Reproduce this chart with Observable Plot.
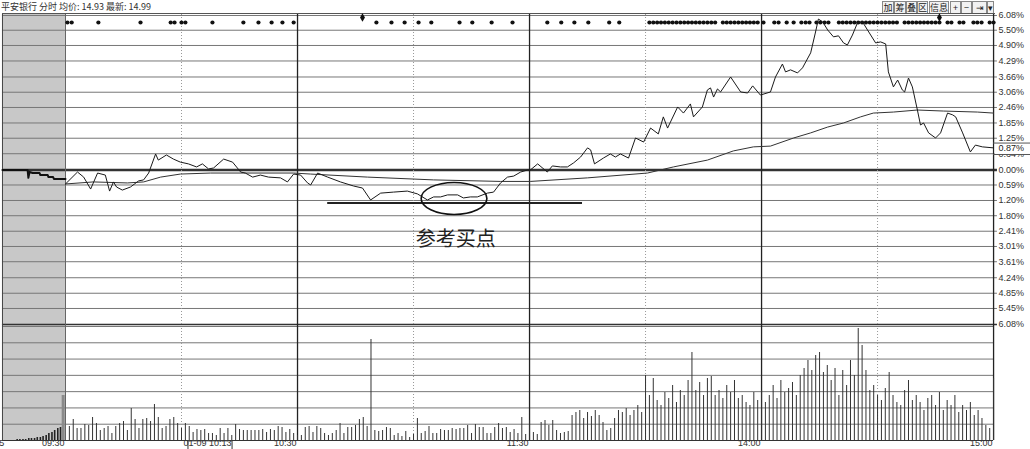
<!DOCTYPE html>
<html><head><meta charset="utf-8">
<script src="https://cdn.jsdelivr.net/npm/d3@7"></script>
<script src="https://cdn.jsdelivr.net/npm/@observablehq/plot@0.6"></script>
<style>
body{margin:0;background:#fff;width:1030px;height:449px;overflow:hidden;position:relative;font-family:"Liberation Sans",Arial,sans-serif;}
#hdr{position:absolute;left:1px;top:1px;font-size:9px;color:#333;white-space:nowrap;font-family:"Noto Sans CJK SC","Liberation Sans",sans-serif;line-height:12px}
.btn{position:absolute;top:1px;border:1px solid #888;background:#f2f2f2;font-size:9px;line-height:11px;text-align:center;color:#222;font-family:"Noto Sans CJK SC",sans-serif;box-sizing:border-box;height:13px}
#topline{position:absolute;left:2px;top:13px;width:993px;height:1px;background:#555}
#pa{position:absolute;left:0;top:14px}
#pv{position:absolute;left:0;top:326px}
svg{overflow:visible}
</style></head><body>
<div id="hdr"></div>
<div id="btns"></div>
<div id="topline"></div>
<div id="pa"></div>
<div id="pv"></div>
<script>
// ---------- data ----------
const headerText = "平安银行 分时 均价: 14.93 最新: 14.99";
const buttonLabels = ["加","筹","叠","区","信息","+","−","⇥","▾"];
const buttonLeft = [882,894,906,917,929,950,961,972,987];
const buttonWidth = [12,12,11,11,20,11,11,15,7];

// price line (minute from 09:30, % change)
const priceMin = [0,3.1,4.7,6.5,8.3,10.3,11.4,12.4,13.2,14.7,16.8,18.9,20.2,21.5,23.3,24.0,26.1,27.9,29.7,31.8,33.9,35.4,37.0,38.3,40.9,43.2,45.3,46.5,48.4,50.4,52.5,55.6,57.4,59.0,60.8,62.6,63.4,65.2,67.8,71.1,74.5,76.8,78.9,81.5,84.8,88.4,91.0,93.6,95.2,97.0,98.8,101.4,102.9,104.7,106.5,109.1,110.7,112.5,114.3,115.9,117.7,119.5,120.2,122.1,124.6,125.9,128.0,129.8,131.4,133.2,135.0,135.8,136.8,139.1,140.9,142.2,143.5,145.6,147.4,149.5,151.3,153.3,154.6,155.7,158.3,159.8,161.6,162.4,164.7,166.0,166.8,167.6,168.6,169.4,172.0,174.6,176.4,177.7,179.7,182.3,183.6,185.4,186.2,187.5,189.3,190.6,192.7,193.9,194.7,195.8,197.1,198.6,199.9,201.2,202.2,203.5,204.8,206.1,207.4,209.5,210.8,212.1,212.8,214.1,215.2,216.4,217.0,218.0,219.0,220.3,221.1,221.9,223.2,225.0,226.3,228.1,229.4,230.2,232.0,234.0,235.3,237.1,240];
const pricePct = [-0.55,-0.08,-0.28,-0.75,-0.12,-0.20,-0.83,-0.47,-0.67,-0.79,-0.67,-0.43,-0.39,-0.12,0.63,0.39,0.59,0.43,0.31,0.24,0.12,0.24,0.04,0.08,0.43,0.31,-0.08,-0.12,-0.28,-0.20,-0.28,-0.31,-0.47,-0.16,-0.20,-0.51,-0.59,-0.12,-0.28,-0.47,-0.63,-0.71,-1.18,-0.91,-0.87,-0.83,-0.94,-1.18,-1.06,-1.06,-0.98,-0.98,-1.10,-1.06,-1.06,-0.91,-0.87,-0.51,-0.28,-0.24,-0.08,0.00,0.00,0.24,-0.08,0.16,0.12,0.12,0.28,0.51,0.87,0.79,0.24,0.47,0.63,0.51,0.63,0.47,1.26,1.10,1.65,1.42,2.09,1.65,2.48,2.24,2.60,2.09,2.48,3.15,3.23,2.87,3.19,3.07,3.66,3.07,3.03,3.31,2.95,3.07,3.66,4.17,3.86,3.94,3.82,4.02,4.61,5.39,5.94,5.83,5.51,5.24,5.28,5.00,4.92,5.31,5.79,5.83,5.51,5.00,5.04,4.96,3.86,3.27,3.54,3.15,3.07,3.62,3.27,2.36,1.77,1.85,1.46,1.26,1.46,2.24,2.17,2.09,1.46,0.71,0.98,0.91,0.87];

// average price line
const avgMin = [0,7.2,16.0,20.2,24.6,29.7,37.5,46.0,59.0,63.4,78.1,95.2,112.5,120.2,135.0,150.5,157.2,166.0,172.7,177.9,182.3,188.3,192.7,197.1,201.2,205.6,208.9,214.1,220.3,227.0,235.8,240];
const avgPct = [-0.55,-0.47,-0.51,-0.47,-0.28,-0.16,-0.12,-0.12,-0.12,-0.16,-0.28,-0.39,-0.45,-0.45,-0.31,-0.12,0.12,0.39,0.75,0.91,0.94,1.26,1.46,1.69,1.85,2.09,2.24,2.28,2.36,2.32,2.28,2.24];

// call-auction line (before 09:30)
const preMin = [-16.3,-9.8,-9.6,-9.3,-8.5,-6.7,-6.5,-4.6,-4.4,-3.2,-3.0,0];
const prePct = [0,0,-0.31,-0.08,-0.12,-0.12,-0.20,-0.20,-0.28,-0.28,-0.35,-0.35];

// volume per minute (bar i at minute i+1)
const volValues = [14,21,12,12,16,15,23,17,10,12, 14,7,14,17,19,10,32,21,12,21, 22,19,36,23,12,14,21,23,17,12, 17,14,8,11,10,11,7,7,5,12, 7,12,5,16,11,10,10,10,10,10, 11,8,11,10,14,13,8,11,7,5, 5,13,14,8,14,12,7,5,7,10, 17,7,13,13,15,21,23,14,101,10, 9,10,13,12,5,7,4,9,3,6, 22,7,9,14,7,7,11,10,10,12, 11,12,12,15,7,16,13,13,7,7, 13,17,12,13,8,11,7,23,6,
 20,8,6,18,20,15,20,10,7,8,9,25,28,30,22,28,24,30,25,18,10,12,22,30,
 28,32,25,30,35,28,65,45,62,40, 35,48,42,55,38,50,45,60,88,50, 58,45,62,64,45,50,42,55,48,60, 42,45,38,35,48,40,50,38,45,55, 42,60,48,52,58,45,65,72,80,70, 85,88,68,75,60,72,45,70,55,80, 65,112,95,70,50,55,45,40,52,68, 45,38,35,50,60,40,45,38,30,42, 45,35,48,30,40,35,45,28,35,30, 38,25,30,22,15,12,62];
const preVolMin = [-12.5,-11.8,-11,-10.3,-9.5,-8.8,-8,-7.3,-6.5,-5.8,-5,-4.3,-3.5,-2.8,-2,-1.3];
const preVolValues = [1,1,1,1,2,2,2,3,3,4,5,7,8,10,12,13];
const openVolMin = -0.6, openVolValue = 45;

// signal dots on the top row, and diamonds
const dotMin = [0.5,1.6,8.5,19.4,27.2,28.2,30.0,31.0,38.0,46.0,49.9,53.3,56.1,59.0,
 80.4,84.3,87.7,91.3,94.6,101.9,105.2,110.2,115.6,
 124.6,128.2,131.6,135.2,140.6,143.2,
 151,152,153,154,155,156,157,158,159,160,161,162,163,164,165,166,167,168,
 170,171,172,173,174,175,176,177,178,179,
 180.5,183.3,184.4,186.5,188.3,190.3,191.4,192.4,194.2,195.2,196.3,197.3,
 200,201,202,203,204,205,206,207,208,209,210,211,212,213,214,215,
 217,218,219,220,221,222,223,224,225,226,
 228.1,229.1,231.2,232.2,234.8,235.8,236.9,239,240];
const diamondMin = [76.8, 226.0];

// axis
const upperVals = [6.08,5.50,4.90,4.29,3.66,3.06,2.46,1.85,1.25,0.64,0.00];
const upperLabels = ["6.08%","5.50%","4.90%","4.29%","3.66%","3.06%","2.46%","1.85%","1.25%","0.64%","0.00%"];
const lowerVals = [-0.59,-1.20,-1.80,-2.41,-3.01,-3.61,-4.24,-4.85,-5.45,-6.08];
const lowerLabels = ["0.59%","1.20%","1.80%","2.41%","3.01%","3.61%","4.24%","4.85%","5.45%","6.08%"];
const lastPct = 0.87, lastLabel = "0.87%";
const timeMin = [-15.6,0,60,120,180,240];
const timeLabels = ["09:25","09:30","10:30","11:30","14:00","15:00"];
const cursorMin = 43.2, cursorLabel = "01-09 10:13";
const solidMin = [60,120,180,240];
const dottedMin = [30,90,150,210];

// annotation
const refLine = {x1: 67.8, x2: 133.7, y: -1.30};
const noteText = "参考买点", noteMin = 100.9, notePct = -2.72;
const ellipseC = {m: 100.6, p: -1.14, rm: 8.5, rp: 0.63};

// ---------- header ----------
document.getElementById("hdr").textContent = headerText;
const btns = document.getElementById("btns");
buttonLabels.forEach((t,i)=>{
  const b=document.createElement("div"); b.className="btn"; b.textContent=t;
  b.style.left=buttonLeft[i]+"px"; b.style.width=buttonWidth[i]+"px"; btns.appendChild(b);
});

// ---------- scales ----------
const xDomain = [-16.81, 249.55];
const leftM = -16.3;
const price = priceMin.map((m,i)=>({m, p: pricePct[i]}));
const avg = avgMin.map((m,i)=>({m, p: avgPct[i]}));
const pre = preMin.map((m,i)=>({m, p: prePct[i]}));
const upper = upperVals.map((v,i)=>({v, t: upperLabels[i]}));
const lower = lowerVals.map((v,i)=>({v, t: lowerLabels[i]}));
const gridVals = upperVals.concat(lowerVals);

const font = "Liberation Sans, Arial, sans-serif";
const plotA = Plot.plot({
  width: 1030, height: 312,
  marginTop: 0, marginBottom: 0, marginLeft: 0, marginRight: 0,
  x: {domain: xDomain, range: [0,1030], axis: null},
  y: {domain: [-6.159, 6.119], range: [312, 0], axis: null},
  style: {fontFamily: font, background: "#fff", overflow: "visible"},
  marks: [
    Plot.rect([0], {x1: leftM, x2: 0, y1: -6.159, y2: 6.119, fill: "#c8c8c8"}),
    Plot.ruleY(gridVals, {x1: leftM, x2: 241, stroke: "#777", strokeWidth: 1}),
    Plot.ruleY([-6.08], {x1: leftM, x2: 241, stroke: "#333", strokeWidth: 1.6}),
    Plot.ruleY([0], {x1: leftM, x2: 241, stroke: "#333", strokeWidth: 2.4}),
    Plot.ruleX(dottedMin, {stroke: "#999", strokeDasharray: "1,2"}),
    Plot.ruleX(solidMin, {stroke: "#222", strokeWidth: 1.3}),
    Plot.ruleX([0], {stroke: "#666", strokeWidth: 1}),
    Plot.ruleX([leftM], {stroke: "#444", strokeWidth: 1}),
    Plot.dot(dotMin, {x: d=>d, frameAnchor: "top", dy: 8, r: 2.1, fill: "#111", stroke: "none"}),
    Plot.dot(diamondMin, {x: d=>d, frameAnchor: "top", dy: 3, r: 2.6, symbol: "diamond", fill: "#111", stroke: "none"}),
    Plot.line(pre, {x: "m", y: "p", stroke: "#111", strokeWidth: 2}),
    Plot.line(avg, {x: "m", y: "p", stroke: "#333", strokeWidth: 1}),
    Plot.line(price, {x: "m", y: "p", stroke: "#1a1a1a", strokeWidth: 1}),
    Plot.ruleY([refLine.y], {x1: refLine.x1, x2: refLine.x2, stroke: "#222", strokeWidth: 2}),
    Plot.text([noteText], {x: noteMin, y: notePct, text: d=>d, fontSize: 20, fill: "#222", fontFamily: "Noto Sans CJK SC"}),
    Plot.text(upper, {x: 240, y: "v", text: "t", dx: 5, textAnchor: "start", fontSize: 9, fill: "#333"}),
    Plot.text(lower, {x: 240, y: "v", text: "t", dx: 5, textAnchor: "start", fontSize: 9, fill: "#333"}),
    Plot.rect([0], {x1: 240.4, x2: 249.55, y1: 0.61, y2: 1.06, fill: "#fff"}),
    Plot.ruleY([0.61, 1.06], {x1: 240, x2: 249.55, stroke: "#555"}),
    Plot.text([lastLabel], {x: 240, y: lastPct, text: d=>d, dx: 5, textAnchor: "start", fontSize: 9, fill: "#222"})
  ]
});
document.getElementById("pa").appendChild(plotA);

// ellipse annotation placed through the plot's scales
{
  const sx = plotA.scale("x"), sy = plotA.scale("y");
  const cx = sx.apply(ellipseC.m), cy = sy.apply(ellipseC.p);
  const rx = sx.apply(ellipseC.m + ellipseC.rm) - cx;
  const ry = cy - sy.apply(ellipseC.p + ellipseC.rp);
  d3.select(plotA).append("ellipse").attr("cx", cx).attr("cy", cy).attr("rx", rx).attr("ry", ry)
    .attr("fill", "none").attr("stroke", "#111").attr("stroke-width", 1.6);
}

// ---------- volume ----------
const vol = volValues.map((v,i)=>({m: i+1, v}));
const preVol = preVolMin.map((m,i)=>({m, v: preVolValues[i]}));
const volGrid = d3.range(1,8).map(k=>k*114/7);
const ticks = timeMin.map((m,i)=>({m, t: timeLabels[i]}));
const plotV = Plot.plot({
  width: 1030, height: 123,
  marginTop: 0, marginBottom: 9, marginLeft: 0, marginRight: 0,
  x: {domain: xDomain, range: [0,1030], axis: null},
  y: {domain: [0,114], axis: null},
  style: {fontFamily: font, background: "transparent", overflow: "visible"},
  marks: [
    Plot.rect([0], {x1: leftM, x2: 0, y1: 0, y2: 114, fill: "#c8c8c8"}),
    Plot.ruleY(volGrid, {x1: leftM, x2: 240, stroke: "#777"}),
    Plot.ruleY([0], {x1: leftM, x2: 240, stroke: "#333", strokeWidth: 1.2}),
    Plot.ruleX(dottedMin, {y1: 0, y2: 114, stroke: "#999", strokeDasharray: "1,2"}),
    Plot.ruleX(solidMin, {y1: 0, y2: 114, stroke: "#222", strokeWidth: 1.3}),
    Plot.ruleX([0], {y1: 0, y2: 114, stroke: "#666"}),
    Plot.ruleX([leftM], {y1: 0, y2: 114, stroke: "#444"}),
    Plot.ruleX([openVolMin], {y1: 0, y2: openVolValue, stroke: "#8a8a8a", strokeWidth: 3}),
    Plot.ruleX(preVol, {x: "m", y1: 0, y2: "v", stroke: "#222", strokeWidth: 1.6}),
    Plot.ruleX(vol, {x: "m", y1: 0, y2: "v", stroke: "#333", strokeWidth: 1}),
    Plot.text(ticks, {x: "m", text: "t", frameAnchor: "bottom", dy: 5.5, dx: -1, textAnchor: "end", fontSize: 9, fill: "#333"}),
    Plot.rect([0], {x1: 31.8, x2: cursorMin, y1: -0.8, y2: -9.5, fill: "#fff", stroke: "#333"}),
    Plot.text([cursorLabel], {x: cursorMin, text: d=>d, frameAnchor: "bottom", dy: 5.5, dx: -1, textAnchor: "end", fontSize: 9, fill: "#333"})
  ]
});
document.getElementById("pv").appendChild(plotV);
</script>
</body></html>
